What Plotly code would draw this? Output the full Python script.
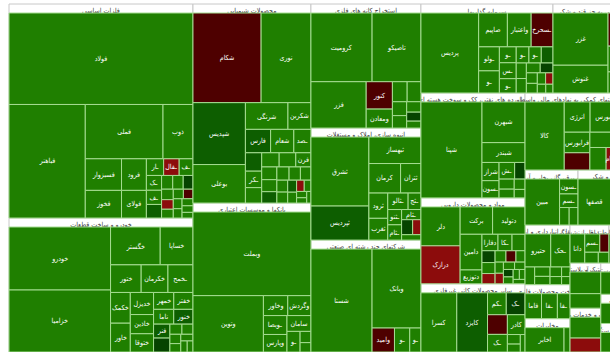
import plotly.graph_objects as go

# ---------------- data (values ~ market size, change in %) ----------------
sector_names = [
    "فلزات اساسی",
    "خودرو و ساخت قطعات",
    "محصولات شیمیایی",
    "بانکها و موسسات اعتباری",
    "استخراج کانه های فلزی",
    "انبوه سازی، املاک و مستغلات",
    "شرکتهای چند رشته ای صنعتی",
    "سرمایه گذاریها",
    "محصولات غذایی و آشامیدنی به جز قند و شکر",
    "فراورده های نفتی، کک و سوخت هسته ای",
    "مواد و محصولات دارویی",
    "سایر محصولات کانی غیرفلزی",
    "فعالیتهای کمکی به نهادهای مالی واسط",
    "سیمان، آهک و گچ",
    "عرضه برق، گاز، بخار و آب گرم",
    "قند و شکر",
    "کاشی و سرامیک",
    "حمل ونقل، انبارداری و ارتباطات",
    "ساخت محصولات فلزی",
    "مخابرات",
    "بیمه وصندوق بازنشستگی",
    "ساخت دستگاهها و وسایل ارتباطی",
    "محصولات کاغذی",
    "لاستیک و پلاستیک",
    "زراعت و خدمات وابسته",
    "رایانه و فعالیتهای وابسته به آن",
    "ماشین آلات و تجهیزات",
    "منسوجات",
    "استخراج زغال سنگ",
    "ساخت دستگاههای برقی",
    "اطلاعات و ارتباطات",
]

# header text as shown on the map (long names are shortened in narrow boxes;
# boxes that lie beyond the visible crop only show the expand marker)
sector_headers = [
    "فلزات اساسی [+]",
    "خودرو و ساخت قطعات [+]",
    "محصولات شیمیایی [+]",
    "بانکها و موسسات اعتباری [+]",
    "استخراج کانه های فلزی [+]",
    "انبوه سازی، املاک و مستغلات [+]",
    "شرکتهای چند رشته ای صنعتی [+]",
    "سرمایه گذاریها [+]",
    "...ی و آشامیدنی به جز قند و شکر [+]",
    "فراورده های نفتی، کک و سوخت هسته ای [+]",
    "مواد و محصولات دارویی [+]",
    "سایر محصولات کانی غیرفلزی [+]",
    "...فعالیتهای کمکی به نهادها [+]",
    "[+]",
    "...عرضه برق، گاز [+]",
    "قند و شکر [+]",
    "[+]",
    "...حمل ونقل [+]",
    "...محصولات [+]",
    "مخابرات [+]",
    "...بیمه [+]",
    "...ساخت [+]",
    "...کاغذی [+]",
    "[+]",
    "[+]",
    "[+]",
    "[+]",
    "[+]",
    "[+]",
    "[+]",
    "[+]",
]

s01_labels = ["فولاد", "فباهنر", "فملی", "ذوب", "فسبزوار", "فخوز", "فرود", "فولای", "ـار", "ـفال", "ـف", "ـف", "ـک",
              "", "", "", "", "", "", "", "", "", "", "", "", "", ""]
s01_values = [17570, 9040, 4410, 1700, 1195, 1045, 820, 717, 300, 270, 240, 225, 235,
              215, 160, 150, 140, 128, 117, 107, 101, 96, 91, 85, 80, 75, 64]
s01_change = [1.5, 1.5, 1.5, 1.5, 1.5, 1.5, 1.5, 1.5, 1.5, -2, 1.5, 1.5, 1.5,
              3, 1.5, 1.5, 5, 1.5, -2, 1.5, 1.5, -4, 1.5, 1.5, 1.5, 1.5, 1.5]

s02_labels = ["خودرو", "خزامیا", "خگستر", "خساپا", "ختور", "خکرمان", "ـخمح", "خکمک", "خاور", "خدیزل", "خاذین", "ختوقا",
              "خمهر", "خفتر", "ناما", "خنور", "فنر", "", "", "", "", "", "", "", ""]
s02_values = [6860, 6750, 2015, 1330, 906, 793, 740, 651, 610, 551, 479, 455,
              366, 348, 320, 305, 244, 244, 131, 120, 109, 98, 87, 76, 68]
s02_change = [1.5, 1.5, 1.5, 1.5, 1.5, 1.5, 1.5, 1.5, 1.5, 1.5, 1.5, 1.5,
              1.5, 1.5, 1.5, 3, 3, 5, 1.5, 1.5, 1.5, 1.5, 1.5, 1.5, 1.5]

s03_labels = ["شکام", "نوری", "شپدیس", "بوعلی", "شرنگی", "شکربن", "فارس", "شعام", "ـصد", "ـکر", "فرن",
              "", "", "", "", "", "", "", "", "", "", "", "", "", "", "", "", "", "", ""]
s03_values = [6400, 4680, 3400, 2113, 1190, 643, 618, 569, 420, 281, 225,
              314, 263, 259, 247, 202, 191, 180, 169, 157, 146, 135, 124, 112, 101, 90, 79, 67, 56, 51]
s03_change = [-4, 1.5, 3, 1.5, 1.5, 1.5, 3, 1.5, 1.5, 1.5, 1.5,
              3, 1.5, 1.5, 1.5, 1.5, 1.5, 3, 1.5, 1.5, 1.5, 1.5, 1.5, 3, 1.5, -2, 1.5, 1.5, 1.5, 1.5]

s04_labels = ["وبملت", "وتوین", "وخاور", "وگردش", "ـوبصا", "وپارس", "سامان", "ـو", "", ""]
s04_values = [10500, 4225, 517, 492, 474, 440, 403, 287, 130, 108]
s04_change = [1.5, 1.5, 1.5, 1.5, 1.5, 1.5, 1.5, 1.5, 1.5, 1.5]

s05_labels = ["کرومیت", "تاصیکو", "فزر", "کنور", "ومعادن", "", "", "", "", "", "", ""]
s05_values = [4530, 3620, 2760, 774, 536, 319, 298, 213, 191, 160, 138, 106]
s05_change = [1.5, 1.5, 1.5, -4, 1.5, 1.5, 1.5, 1.5, 1.5, 1.5, 5, 1.5]

s06_labels = ["ثشرق", "ثپردیس", "ثبهساز", "کرمان", "ثتران", "ثرود", "ثغرب", "ـثالو", "ـثج", "ـثنو", "ـثام", "ـثام", "", "", ""]
s06_values = [4350, 2145, 1500, 1017, 653, 518, 446, 365, 230, 230, 230, 214, 180, 135, 113]
s06_change = [1.5, 3, 1.5, 1.5, 1.5, 1.5, 1.5, 1.5, 1.5, 1.5, 1.5, 1.5, 5, -2, 1.5]

s07_labels = ["شستا", "وبانک", "وامید", "ـو", "ـو"]
s07_values = [6840, 4198, 585, 398, 292]
s07_change = [1.5, 1.5, -4, 1.5, 1.5]

s08_labels = ["پردیس", "صاپیم", "واعتبار", "ـسحرخ", "ـولو", "ـو", "ـو", "ـس", "ـو", "ـو", "ـو",
              "", "", "", "", "", "", "", "", "", "", ""]
s08_values = [5135, 1083, 896, 822, 554, 510, 298, 298, 268, 228, 222,
              210, 175, 163, 152, 140, 128, 117, 105, 93, 82, 70]
s08_change = [1.5, 1.5, 1.5, -4, 1.5, 1.5, 1.5, 1.5, 1.5, 1.5, 1.5,
              3, 1.5, 1.5, 1.5, 5, 1.5, 1.5, 1.5, -2, 1.5, 1.5]

s09_labels = ["غزر", "غنوش", "", "", "", "", "", "", ""]
s09_values = [3200, 1700, 1500, 1300, 1100, 900, 800, 600, 559]
s09_change = [1.5, 1.5, -4, 1.5, 1.5, 1.5, 1.5, 1.5, 1.5]

s10_labels = ["شپنا", "شبهرن", "شبندر", "شراز", "ـسون", "ـش", "", "", "", "", ""]
s10_values = [6405, 1915, 934, 340, 321, 284, 189, 167, 145, 122, 100]
s10_change = [1.5, 1.5, 1.5, 1.5, 1.5, 1.5, 5, 1.5, 1.5, 1.5, 1.5]

s11_labels = ["دلر", "درازک", "برکت", "دتولید", "دامین", "دتوزیع", "دفارا", "ـکا",
              "", "", "", "", "", "", "", "", "", "", "", "", "", "", "", ""]
s11_values = [1706, 1662, 994, 994, 870, 338, 295, 258,
              239, 173, 161, 150, 138, 127, 115, 104, 98, 92, 86, 81, 75, 69, 63, 58]
s11_change = [1.5, -2, 1.5, 1.5, 1.5, 1.5, 1.5, 1.5,
              1.5, 5, 1.5, -2, 1.5, -4, 1.5, 1.5, -2, 1.5, 1.5, 5, 1.5, 1.5, 1.5, 1.5]

s12_labels = ["کسرا", "کایزد", "ـکم", "ـک", "ـک", "کادر", "", "", "", ""]
s12_values = [2445, 2096, 474, 474, 403, 403, 450, 142, 118, 95]
s12_change = [1.5, 3, 1.5, 5, 1.5, 1.5, -4, 1.5, 1.5, 1.5]

s13_labels = ["کالا", "انرژی", "بورس", "فرابورس", "", "", "", "سام"]
s13_values = [3020, 885, 885, 597, 500, 450, 413, 250]
s13_change = [1.5, 1.5, 1.5, 1.5, -4, 1.5, 1.5, -2]

s14_labels = ["", "", "", "", ""]
s14_values = [1500, 1200, 1000, 900, 643]
s14_change = [1.5, 1.5, 1.5, 1.5, 1.5]

s15_labels = ["مبین", "ـسون", "ـسم", "", ""]
s15_values = [1900, 330, 300, 200, 185]
s15_change = [1.5, 1.5, 1.5, 1.5, 1.5]

s16_labels = ["قصفها", "", ""]
s16_values = [1800, 600, 515]
s16_change = [1.5, 1.5, 1.5]

s17_labels = ["", "", ""]
s17_values = [1200, 900, 815]
s17_change = [1.5, 1.5, 1.5]

s18_labels = ["حتیرو", "ـحک", "", "", "", "", "", "", ""]
s18_values = [1000, 750, 200, 170, 150, 130, 110, 95, 80]
s18_change = [1.5, 1.5, 1.5, 1.5, 1.5, 1.5, 1.5, 1.5, 1.5]

s19_labels = ["فاما", "ـفا", "ـفا"]
s19_values = [560, 540, 430]
s19_change = [1.5, 1.5, 1.5]

s20_labels = ["اخابر", ""]
s20_values = [1300, 200]
s20_change = [1.5, 1.5]

s21_labels = ["دانا", "ـسم", "", "", ""]
s21_values = [560, 360, 220, 190, 150]
s21_change = [1.5, 1.5, -4, 1.5, 1.5]

s22_labels = ["انتخاب", "", ""]
s22_values = [800, 380, 270]
s22_change = [1.5, -4, 1.5]

s23_labels = ["چکاپا", ""]
s23_values = [1150, 250]
s23_change = [1.5, -2]

s24_labels = ["", ""]
s24_values = [834, 556]
s24_change = [1.5, 1.5]
s25_labels = ["", ""]
s25_values = [810, 540]
s25_change = [1.5, -2]
s26_labels = ["", ""]
s26_values = [792, 528]
s26_change = [1.5, 1.5]
s27_labels = ["", ""]
s27_values = [768, 512]
s27_change = [3, 1.5]
s28_labels = ["", ""]
s28_values = [750, 500]
s28_change = [1.5, 1.5]
s29_labels = ["", ""]
s29_values = [732, 488]
s29_change = [1.5, 1.5]
s30_labels = ["", ""]
s30_values = [714, 476]
s30_change = [-4, 1.5]
s31_labels = ["", ""]
s31_values = [689, 459]
s31_change = [1.5, 1.5]

leaf_labels = [s01_labels, s02_labels, s03_labels, s04_labels, s05_labels, s06_labels, s07_labels, s08_labels,
               s09_labels, s10_labels, s11_labels, s12_labels, s13_labels, s14_labels, s15_labels, s16_labels,
               s17_labels, s18_labels, s19_labels, s20_labels, s21_labels, s22_labels, s23_labels, s24_labels,
               s25_labels, s26_labels, s27_labels, s28_labels, s29_labels, s30_labels, s31_labels]
leaf_values = [s01_values, s02_values, s03_values, s04_values, s05_values, s06_values, s07_values, s08_values,
               s09_values, s10_values, s11_values, s12_values, s13_values, s14_values, s15_values, s16_values,
               s17_values, s18_values, s19_values, s20_values, s21_values, s22_values, s23_values, s24_values,
               s25_values, s26_values, s27_values, s28_values, s29_values, s30_values, s31_values]
leaf_change = [s01_change, s02_change, s03_change, s04_change, s05_change, s06_change, s07_change, s08_change,
               s09_change, s10_change, s11_change, s12_change, s13_change, s14_change, s15_change, s16_change,
               s17_change, s18_change, s19_change, s20_change, s21_change, s22_change, s23_change, s24_change,
               s25_change, s26_change, s27_change, s28_change, s29_change, s30_change, s31_change]


def color_for(ch):
    if ch >= 4.5:
        return "#064400"
    if ch >= 2.5:
        return "#0d5e00"
    if ch > 0:
        return "#1f7f00"
    if ch > -3:
        return "#8c0c0c"
    return "#4e0000"


ids, labels, texts, parents, values = [], [], [], [], []
colors, line_colors, text_colors = [], [], []
for si, sname in enumerate(sector_names):
    sid = f"s{si}"
    ids.append(sid)
    labels.append(sname)
    texts.append(sector_headers[si])
    parents.append("")
    values.append(0)
    colors.append("#ffffff")
    line_colors.append("#c8c8c8")
    text_colors.append("#333333")
    for li, (lab, val, ch) in enumerate(zip(leaf_labels[si], leaf_values[si], leaf_change[si])):
        ids.append(f"{sid}_{li}")
        labels.append(lab)
        texts.append(lab)
        parents.append(sid)
        values.append(val)
        colors.append(color_for(ch))
        line_colors.append("rgb(165,220,145)")
        text_colors.append("#ffffff")

fig = go.Figure(go.Treemap(
    ids=ids,
    labels=labels,
    text=texts,
    texttemplate="%{text}",
    parents=parents,
    values=values,
    branchvalues="remainder",
    sort=True,
    marker=dict(colors=colors,
                line=dict(color=line_colors, width=1),
                pad=dict(t=9, l=0, r=0, b=0)),
    tiling=dict(packing="squarify", squarifyratio=1, pad=0),
    pathbar=dict(visible=False),
    textposition="middle center",
    textfont=dict(family="DejaVu Sans Condensed, DejaVu Sans", size=8, color=text_colors),
    hoverinfo="label+value",
    root=dict(color="white"),
))

# the map is wider than the 610px window (it is shown cropped on the right, as in the reference)
fig.update_layout(
    width=684, height=357,
    margin=dict(l=9, r=0, t=0, b=0),
    paper_bgcolor="white",
    font=dict(family="DejaVu Sans Condensed, DejaVu Sans"),
    uniformtext=dict(minsize=7, mode="show"),
)

post = ("var gd=document.getElementById('{plot_id}');"
        "gd.style.marginTop='-5px';"
        "document.documentElement.style.overflow='hidden';"
        "document.body.style.overflow='hidden';"
        "document.body.style.margin='0';")

fig.write_html("out.html", post_script=post)
